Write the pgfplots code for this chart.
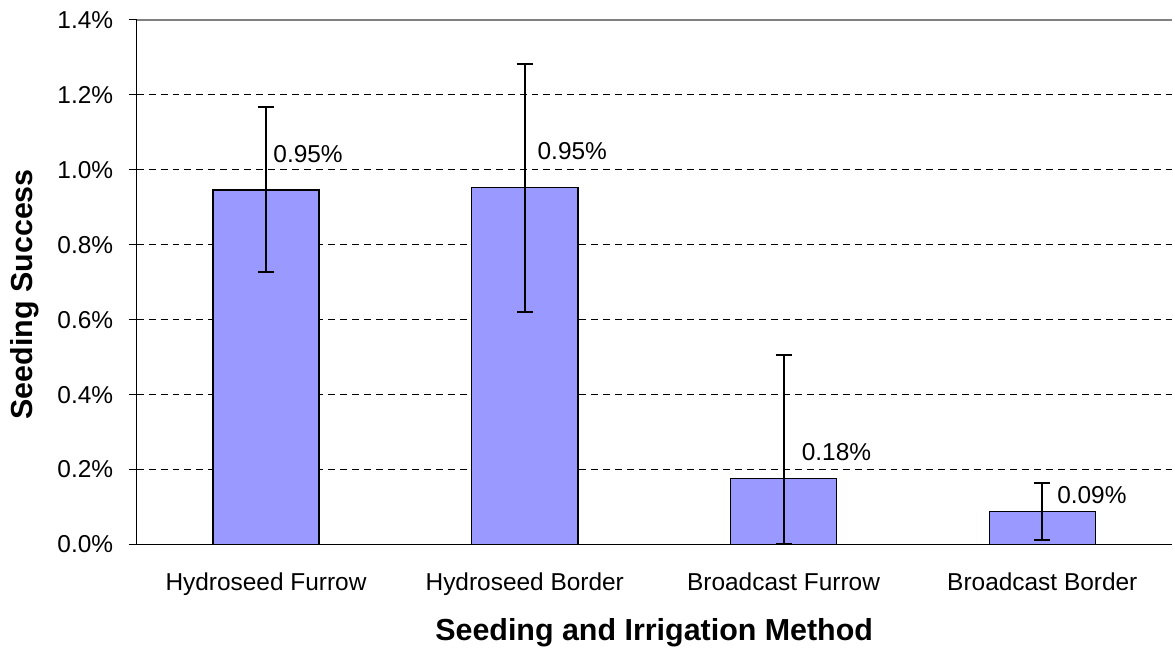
\documentclass[border=0pt]{standalone}
\usepackage{pgfplots}
\pgfplotsset{compat=1.18}
\usepackage{fontspec}
\setmainfont{Liberation Sans}
\definecolor{barfill}{RGB}{153,153,255}
\begin{document}
\begin{tikzpicture}
\begin{axis}[
  scale only axis, width=1038pt, height=526pt,
  xmin=-0.5, xmax=3.5, ymin=0, ymax=1.4,
  axis x line*=bottom, axis y line*=left,
  axis line style={black, line width=1pt, -},
  tick align=outside,
  xtick={0,1,2,3},
  xticklabels={Hydroseed Furrow, Hydroseed Border, Broadcast Furrow, Broadcast Border},
  x tick style={draw=none},
  extra x ticks={-0.5,0.5,1.5,2.5,3.5},
  extra x tick labels={},
  extra x tick style={major tick length=8pt, tick style={draw=black, line width=1pt}, grid=none},
  ytick={0,0.2,0.4,0.6,0.8,1.0,1.2,1.4},
  yticklabels={0.0\%,0.2\%,0.4\%,0.6\%,0.8\%,1.0\%,1.2\%,1.4\%},
  y tick style={black, line width=1pt},
  major tick length=8pt,
  ymajorgrids,
  major grid style={black, line width=0.8pt, dash pattern=on 7pt off 5pt},
  ticklabel style={font=\fontsize{24.5}{28}\selectfont},
  xticklabel style={yshift=-17pt},
  yticklabel style={xshift=-12pt},
  xlabel={\textbf{Seeding and Irrigation Method}},
  ylabel={\textbf{Seeding Success}},
  label style={font=\fontsize{30.5}{34}\selectfont},
  xlabel style={at={(axis description cs:0.5,0)}, anchor=center, yshift=-88pt},
  ylabel style={at={(axis description cs:-0.1079,0.477)}, anchor=center},
  clip=false,
]
\draw[gray, line width=1.5pt] (axis cs:-0.5,1.4) -- (axis cs:3.5,1.4);
\addplot[ybar, bar width=0.41, fill=barfill, draw=black, line width=1.5pt,
  error bars/.cd, y dir=both, y explicit,
  error bar style={line width=2pt, black, solid},
  error mark options={rotate=90, mark size=8pt, line width=2pt, black}]
  coordinates {
    (0,0.946) += (0,0.222) -= (0,0.219)
    (1,0.953) += (0,0.330) -= (0,0.333)
    (2,0.176) += (0,0.331) -= (0,0.176)
    (3,0.088) += (0,0.077) -= (0,0.077)
  };
\node[anchor=west, inner sep=0pt, font=\fontsize{24.5}{28}\selectfont] at (axis cs:0.028,1.041) {0.95\%};
\node[anchor=west, inner sep=0pt, font=\fontsize{24.5}{28}\selectfont] at (axis cs:1.049,1.049) {0.95\%};
\node[anchor=west, inner sep=0pt, font=\fontsize{24.5}{28}\selectfont] at (axis cs:2.070,0.2475) {0.18\%};
\node[anchor=west, inner sep=0pt, font=\fontsize{24.5}{28}\selectfont] at (axis cs:3.057,0.133) {0.09\%};
\end{axis}
\path[use as bounding box] ([xshift=-137pt,yshift=-108pt]current axis.south west) rectangle ([yshift=20pt]current axis.north east);
\end{tikzpicture}
\end{document}
